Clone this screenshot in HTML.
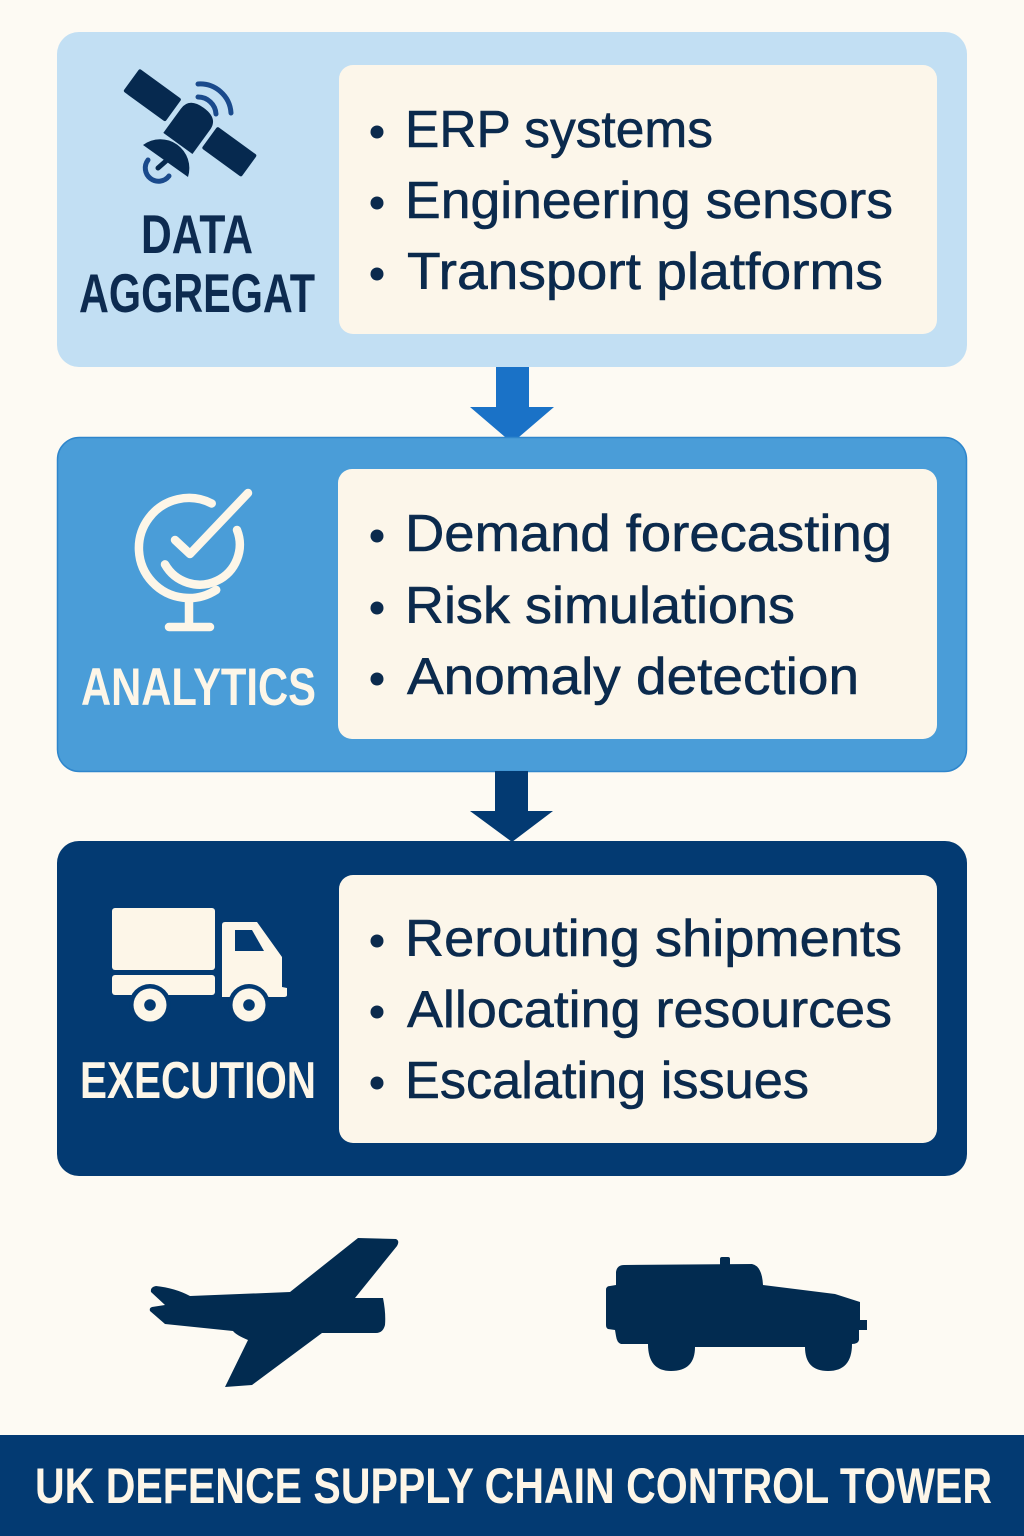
<!DOCTYPE html>
<html>
<head>
<meta charset="utf-8">
<style>
  html, body { margin: 0; padding: 0; background: #fdfaf3; }
  svg { display: block; }
  .b { font-family: "Liberation Sans", sans-serif; fill: #0b2a4d; font-size: 52px; stroke: #0b2a4d; stroke-width: 0.6px; }
  .lbl { font-family: "Liberation Sans", sans-serif; font-weight: bold; }
</style>
</head>
<body>
<svg width="1024" height="1536" viewBox="0 0 1024 1536" xmlns="http://www.w3.org/2000/svg">
  <rect x="0" y="0" width="1024" height="1536" fill="#fdfaf3"/>

  <!-- BOX 1 -->
  <rect x="57" y="32" width="910" height="335" rx="22" fill="#c2dff3"/>
  <rect x="339" y="65" width="598" height="269" rx="14" fill="#fcf6ea"/>

  <!-- satellite -->
  <g fill="#06294f">
    <g transform="translate(192,124) rotate(36)">
      <rect x="-75" y="-14" width="52" height="28" rx="2"/>
      <rect x="22" y="-13" width="49" height="27" rx="2"/>
      <path d="M-18,24 L-18,-6 Q-18,-20 0,-20 Q18,-20 18,-6 L18,24 Z"/>
    </g>
    <path d="M143,145 A29,29 0 0 1 188,177 Z"/>
    <line x1="166" y1="161" x2="158" y2="168" stroke="#06294f" stroke-width="5" stroke-linecap="round"/>
  </g>
  <g fill="none" stroke="#1a4a8c" stroke-width="5" stroke-linecap="round">
    <path d="M148,160 A11,11 0 1 0 169,176"/>
    <path d="M198,84 A31,31 0 0 1 231,113"/>
    <path d="M198,97 A18,18 0 0 1 216,114"/>
  </g>

  <text class="lbl" x="141" y="253" font-size="55" fill="#0d2b50" textLength="112" lengthAdjust="spacingAndGlyphs">DATA</text>
  <text class="lbl" x="79" y="312" font-size="55" fill="#0d2b50" textLength="236" lengthAdjust="spacingAndGlyphs">AGGREGAT</text>

  <circle cx="377" cy="132" r="6.5" fill="#0b2a4d"/>
  <circle cx="377" cy="203" r="6.5" fill="#0b2a4d"/>
  <circle cx="377" cy="274" r="6.5" fill="#0b2a4d"/>
  <text class="b" x="405" y="147" textLength="308" lengthAdjust="spacingAndGlyphs">ERP systems</text>
  <text class="b" x="405" y="218" textLength="488" lengthAdjust="spacingAndGlyphs">Engineering sensors</text>
  <text class="b" x="407" y="289" textLength="476" lengthAdjust="spacingAndGlyphs">Transport platforms</text>

  <!-- Arrow 1 -->
  <path d="M496,367 L529,367 L529,407 L554,407 L512,443 L470,407 L496,407 Z" fill="#1a72c7"/>

  <!-- BOX 2 -->
  <rect x="57.5" y="437.5" width="909" height="334" rx="22" fill="#4a9dd8" stroke="#2f86cc" stroke-width="1.5"/>
  <rect x="338" y="469" width="599" height="270" rx="14" fill="#fcf6ea"/>

  <!-- globe icon -->
  <g fill="none" stroke="#fdf6e8" stroke-width="8.5" stroke-linecap="round" stroke-linejoin="round">
    <path d="M211.7,503.5 A50,50 0 1 0 216.2,589.9"/>
    <path d="M165,564.4 A40,40 0 0 0 237,530"/>
    <path d="M175,540 L190,554 L248,493"/>
    <line x1="189" y1="599" x2="189" y2="626"/>
    <line x1="169" y1="627" x2="210" y2="627"/>
  </g>

  <text class="lbl" x="81" y="705" font-size="53" fill="#fdf6e8" textLength="235" lengthAdjust="spacingAndGlyphs">ANALYTICS</text>

  <circle cx="377" cy="536" r="6.5" fill="#0b2a4d"/>
  <circle cx="377" cy="608" r="6.5" fill="#0b2a4d"/>
  <circle cx="377" cy="679" r="6.5" fill="#0b2a4d"/>
  <text class="b" x="405" y="551" textLength="487" lengthAdjust="spacingAndGlyphs">Demand forecasting</text>
  <text class="b" x="405" y="623" textLength="390" lengthAdjust="spacingAndGlyphs">Risk simulations</text>
  <text class="b" x="407" y="694" textLength="452" lengthAdjust="spacingAndGlyphs">Anomaly detection</text>

  <!-- Arrow 2 -->
  <path d="M495,771 L528,771 L528,811 L553,811 L512,842 L470,811 L495,811 Z" fill="#033a72"/>

  <!-- BOX 3 -->
  <rect x="57" y="841" width="910" height="335" rx="22" fill="#033a72"/>
  <rect x="339" y="875" width="598" height="268" rx="14" fill="#fcf6ea"/>

  <!-- truck icon -->
  <g fill="#fdf6e8">
    <rect x="112" y="908" width="103" height="62" rx="3"/>
    <rect x="112" y="975" width="103" height="20" rx="3"/>
    <path d="M222,925 Q222,922 225,922 L257,922 L282,957 L282,987 L287,988 L287,995 Q287,997 284,997 L222,997 Z"/>
  </g>
  <path d="M235,930 L252,930 L264,951 L235,951 Z" fill="#033a72"/>
  <g>
    <circle cx="150" cy="1005" r="21" fill="#033a72"/>
    <circle cx="249" cy="1005" r="21" fill="#033a72"/>
    <circle cx="150" cy="1005" r="16.5" fill="#fdf6e8"/>
    <circle cx="249" cy="1005" r="16.5" fill="#fdf6e8"/>
    <circle cx="150" cy="1005" r="5.8" fill="#033a72"/>
    <circle cx="249" cy="1005" r="5.8" fill="#033a72"/>
  </g>

  <text class="lbl" x="80" y="1098" font-size="52" fill="#fdf6e8" textLength="236" lengthAdjust="spacingAndGlyphs">EXECUTION</text>

  <circle cx="377" cy="941" r="6.5" fill="#0b2a4d"/>
  <circle cx="377" cy="1012" r="6.5" fill="#0b2a4d"/>
  <circle cx="377" cy="1083" r="6.5" fill="#0b2a4d"/>
  <text class="b" x="405" y="956" textLength="497" lengthAdjust="spacingAndGlyphs">Rerouting shipments</text>
  <text class="b" x="407" y="1027" textLength="485" lengthAdjust="spacingAndGlyphs">Allocating resources</text>
  <text class="b" x="405" y="1098" textLength="404" lengthAdjust="spacingAndGlyphs">Escalating issues</text>

  <!-- plane -->
  <path fill="#022b50" d="M358,1238 L396,1239 Q400,1241 397,1246 L355,1298 L383,1298 Q386,1313 385,1325 Q383,1333 376,1333 L322,1333 L252,1385 L225,1387 L248,1340 Q236,1335 233,1331 L165,1324 L150,1311 Q149,1308 152,1307 L165,1305 L151,1292 Q150,1287 156,1286 Q175,1288 190,1296 L290,1292 Z"/>

  <!-- jeep -->
  <path fill="#022b50" d="M624,1265 L752,1264 Q762,1266 763,1285 L835,1294 L860,1302 L860,1320 L867,1320 L867,1330 L859,1330 L859,1340 Q858,1344 852,1344 Q852,1371 828,1371 Q805,1371 805,1347 L695,1347 Q695,1371 671,1371 Q648,1371 648,1344 L621,1344 Q617,1343 616,1336 L615,1330 L608,1329 Q606,1328 606,1325 L606,1290 Q606,1286 610,1286 L616,1285 L616,1272 Q617,1265 624,1265 Z"/>
  <rect x="720" y="1257" width="10" height="9" rx="2" fill="#022b50"/>

  <!-- banner -->
  <rect x="0" y="1435" width="1024" height="101" fill="#033a72"/>
  <text class="lbl" x="35" y="1503" font-size="50" fill="#fdf6e8" textLength="957" lengthAdjust="spacingAndGlyphs">UK DEFENCE SUPPLY CHAIN CONTROL TOWER</text>
</svg>
</body>
</html>
